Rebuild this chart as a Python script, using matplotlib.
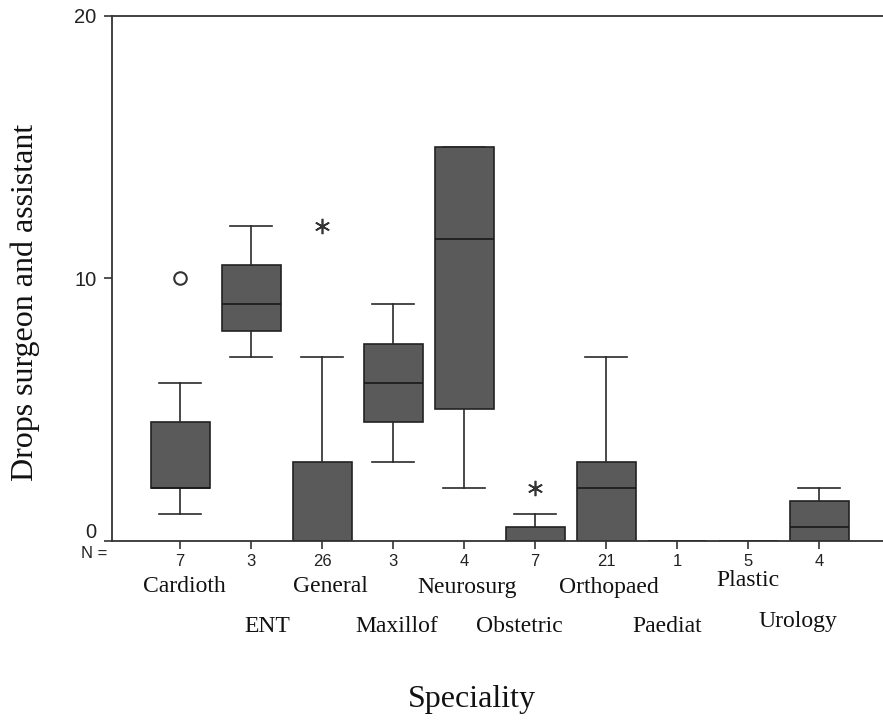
import matplotlib
matplotlib.use('Agg')
from matplotlib import pyplot as plt
from matplotlib import transforms

# data
specialities = ['Cardioth', 'ENT', 'General', 'Maxillof', 'Neurosurg',
                'Obstetric', 'Orthopaed', 'Paediat', 'Plastic', 'Urology']
n_counts = [7, 3, 26, 3, 4, 7, 21, 1, 5, 4]
q1 = [2, 8, 0, 4.5, 5, 0, 0, 0, 0, 0]
median = [2, 9, 0, 6, 11.5, 0, 2, 0, 0, 0.5]
q3 = [4.5, 10.5, 3, 7.5, 15, 0.5, 3, 0, 0, 1.5]
whisker_lo = [1, 7, 0, 3, 2, 0, 0, 0, 0, 0]
whisker_hi = [6, 12, 7, 9, 15, 1, 7, 0, 0, 2]
circle_outliers = [(1, 10)]          # (category index starting 1, value)
star_outliers = [(3, 12), (6, 2)]

# label placement (figure pixels) - pasted in two staggered rows
label_px = {'Cardioth': (184, 587), 'General': (330, 587), 'Neurosurg': (467, 587),
            'Orthopaed': (609, 587), 'Plastic': (748, 581),
            'ENT': (267, 626), 'Maxillof': (397, 626), 'Obstetric': (519, 626),
            'Paediat': (667, 626), 'Urology': (798, 621)}

W, H = 883, 720
fig = plt.figure(figsize=(W / 100, H / 100), dpi=100)
ax = fig.add_axes([112 / W, 1 - 540.5 / H, 1 - 112 / W, (540.5 - 15.7) / H])

stats = []
for i in range(len(specialities)):
    stats.append(dict(med=median[i], q1=q1[i], q3=q3[i], whislo=whisker_lo[i],
                      whishi=whisker_hi[i], fliers=[], label=str(n_counts[i])))

positions = list(range(1, len(specialities) + 1))
ax.bxp(stats, positions=positions, widths=0.83, capwidths=0.6, patch_artist=True,
       showfliers=False,
       boxprops=dict(facecolor='#5a5a5a', edgecolor='#222222', linewidth=1.2),
       medianprops=dict(color='#1a1a1a', linewidth=1.2),
       whiskerprops=dict(color='#2a2a2a', linewidth=1.2),
       capprops=dict(color='#2a2a2a', linewidth=1.2))

ax.plot([p for p, v in circle_outliers], [v for p, v in circle_outliers], linestyle='none',
        marker='o', markersize=9, markerfacecolor='none', markeredgecolor='#333333',
        markeredgewidth=1.5)
ax.plot([p for p, v in star_outliers], [v for p, v in star_outliers], linestyle='none',
        marker=(6, 2, 0), markersize=11, color='#333333', markeredgewidth=1.2)

ax.set_xlim(0.04, 10.9)
ax.set_ylim(0, 20)
ax.set_yticks([0, 10, 20])
ax.set_xticks(positions)
ax.set_xticklabels([str(n) for n in n_counts])
ax.spines['right'].set_visible(False)
for s in ['left', 'top', 'bottom']:
    ax.spines[s].set_linewidth(1.3)
    ax.spines[s].set_color('#333333')
ax.tick_params(axis='both', direction='out', length=6, width=1.2, color='#333333')
ax.tick_params(axis='y', labelsize=14.5, pad=5)
ax.tick_params(axis='x', labelsize=12, pad=4)
for lab in ax.get_yticklabels() + ax.get_xticklabels():
    lab.set_family('Liberation Sans')
    lab.set_color('#222222')

# the "0" label sits a little above the axis line in the reference
zero_lab = ax.yaxis.get_major_ticks()[0].label1
zero_lab.set_transform(zero_lab.get_transform() +
                       transforms.ScaledTranslation(0, 10 / 100, fig.dpi_scale_trans))

fig.text(94 / W, 1 - 554 / H, 'N =', ha='center', va='center', fontsize=12,
         family='Liberation Sans', color='#222222')

for name in specialities:
    px, py = label_px[name]
    fig.text(px / W, 1 - py / H, name, ha='center', va='center', fontsize=17,
             family='Liberation Serif', color='#111111')

fig.text(472 / W, 1 - 700 / H, 'Speciality', ha='center', va='center', fontsize=23,
         family='Liberation Serif', color='#111111')
fig.text(25 / W, 1 - 302 / H, 'Drops surgeon and assistant', ha='center', va='center',
         rotation=90, fontsize=23, family='Liberation Serif', color='#111111')

fig.savefig('out.png', dpi=100)
